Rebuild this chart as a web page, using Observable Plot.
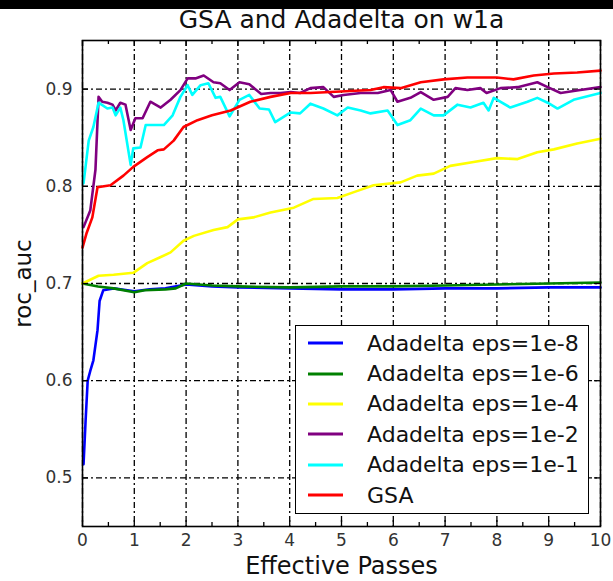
<!DOCTYPE html>
<html>
<head>
<meta charset="utf-8">
<script src="https://cdn.jsdelivr.net/npm/d3@7"></script>
<script src="https://cdn.jsdelivr.net/npm/@observablehq/plot@0.6"></script>
<style>
  html, body { margin: 0; padding: 0; background: #fff; }
  #wrap { position: relative; width: 613px; height: 581px; overflow: hidden; background: #fff; font-family: "DejaVu Sans", sans-serif; }
  #band { position: absolute; left: 0; top: 0; width: 613px; height: 9px; background: #000; z-index: 3; }
  #chart svg { position: absolute; left: 0; top: 0; background: transparent; overflow: visible; }
  #legend { position: absolute; left: 295px; top: 325px; width: 292px; height: 185px; border: 1.5px solid #000; background: #fff; z-index: 2; padding-top: 2px; box-sizing: content-box; }
  .row { height: 30.4px; display: flex; align-items: center; }
  .row svg { margin-left: 12px; margin-right: 24px; flex: none; }
  .row span { font-size: 22px; color: #111; white-space: pre; }
</style>
</head>
<body>
<div id="wrap">
  <div id="band"></div>
  <div id="chart"></div>
  <div id="legend"></div>
</div>
<script>
// ---- data ----
const seriesNames = ["Adadelta eps=1e-8", "Adadelta eps=1e-6", "Adadelta eps=1e-4", "Adadelta eps=1e-2", "Adadelta eps=1e-1", "GSA"];

const eps1e8 = [[0.02,0.514],[0.06,0.559],[0.10,0.600],[0.15,0.610],[0.21,0.621],[0.29,0.652],[0.33,0.682],[0.40,0.693],[0.6,0.695],[1.0,0.692],[1.3,0.694],[1.6,0.695],[2.0,0.699],[2.5,0.697],[3.0,0.696],[4.0,0.695],[5.0,0.694],[6.0,0.694],[7.0,0.695],[8.0,0.695],[9.0,0.696],[10.0,0.696]];

const eps1e6 = [[0,0.700],[0.3,0.697],[0.6,0.695],[1.0,0.691],[1.2,0.693],[1.6,0.694],[1.8,0.695],[2.0,0.700],[2.5,0.698],[3.0,0.697],[4.0,0.696],[5.0,0.697],[6.0,0.697],[7.0,0.698],[8.0,0.699],[9.0,0.700],[10.0,0.701]];

const eps1e4 = [[0,0.700],[0.31,0.708],[0.6,0.709],[0.98,0.711],[1.25,0.721],[1.5,0.727],[1.7,0.732],[1.95,0.744],[2.15,0.749],[2.53,0.755],[2.8,0.758],[3.0,0.766],[3.3,0.768],[3.63,0.773],[4.08,0.778],[4.46,0.787],[4.92,0.788],[5.24,0.794],[5.62,0.801],[6.14,0.804],[6.46,0.811],[6.78,0.813],[7.1,0.821],[7.55,0.825],[8.0,0.829],[8.4,0.828],[8.78,0.835],[9.1,0.838],[9.55,0.844],[10.0,0.849]];

const eps1e2 = [[0.02,0.758],[0.15,0.775],[0.25,0.817],[0.31,0.892],[0.38,0.887],[0.48,0.886],[0.58,0.884],[0.64,0.878],[0.73,0.886],[0.83,0.884],[0.93,0.858],[1.02,0.870],[1.16,0.870],[1.31,0.887],[1.51,0.881],[1.7,0.889],[1.89,0.899],[2.03,0.911],[2.18,0.911],[2.34,0.914],[2.53,0.907],[2.66,0.906],[2.84,0.899],[3.03,0.907],[3.22,0.905],[3.45,0.895],[3.63,0.896],[3.82,0.896],[4.02,0.897],[4.2,0.896],[4.4,0.901],[4.65,0.902],[4.85,0.892],[5.04,0.894],[5.37,0.896],[5.7,0.896],[5.95,0.899],[6.08,0.887],[6.33,0.891],[6.53,0.897],[6.78,0.889],[7.05,0.892],[7.2,0.901],[7.43,0.899],[7.68,0.901],[7.8,0.896],[8.07,0.901],[8.4,0.902],[8.78,0.907],[8.98,0.902],[9.23,0.896],[9.61,0.899],[10.0,0.902]];

const eps1e1 = [[0.02,0.803],[0.12,0.847],[0.21,0.861],[0.31,0.886],[0.48,0.880],[0.58,0.881],[0.64,0.873],[0.73,0.881],[0.79,0.868],[0.93,0.822],[0.98,0.839],[1.12,0.840],[1.22,0.863],[1.35,0.863],[1.57,0.863],[1.74,0.873],[1.89,0.892],[2.03,0.904],[2.12,0.894],[2.28,0.904],[2.43,0.906],[2.57,0.891],[2.66,0.892],[2.84,0.872],[3.03,0.889],[3.22,0.894],[3.42,0.880],[3.6,0.879],[3.72,0.866],[4.02,0.876],[4.2,0.875],[4.4,0.885],[4.65,0.880],[4.92,0.873],[5.12,0.881],[5.37,0.878],[5.56,0.875],[5.89,0.878],[6.08,0.863],[6.33,0.868],[6.53,0.880],[6.78,0.873],[6.97,0.873],[7.24,0.884],[7.49,0.881],[7.74,0.886],[7.84,0.878],[7.94,0.891],[8.26,0.881],[8.59,0.887],[8.78,0.891],[8.98,0.886],[9.17,0.880],[9.48,0.889],[10.0,0.896]];

const gsa = [[0,0.737],[0.08,0.752],[0.19,0.768],[0.29,0.799],[0.54,0.801],[0.79,0.811],[0.98,0.820],[1.25,0.830],[1.45,0.837],[1.57,0.838],[1.76,0.847],[1.95,0.861],[2.22,0.868],[2.5,0.873],[2.86,0.878],[3.24,0.887],[3.63,0.892],[4.02,0.896],[4.4,0.896],[4.79,0.897],[5.17,0.898],[5.56,0.899],[5.81,0.902],[6.14,0.901],[6.53,0.907],[6.97,0.910],[7.43,0.912],[8.0,0.912],[8.32,0.910],[8.71,0.914],[9.1,0.916],[9.55,0.917],[10.0,0.919]];

const xTicks = [0,1,2,3,4,5,6,7,8,9,10];
const xMinorTicks = [0.5,1.5,2.5,3.5,4.5,5.5,6.5,7.5,8.5,9.5];
const yTicks = [0.5,0.6,0.7,0.8,0.9];
const xDomain = [0, 10];
const yDomain = [0.45, 0.95];

const titleText = "GSA and Adadelta on w1a";
const xLabel = "Effective Passes";
const yLabel = "roc_auc";

// ---- styles ----
const colors = ["#0000ff", "#008000", "#ffff00", "#800080", "#00ffff", "#ff0000"];
const W = 613, H = 581;
const mt = 40, mr = 13, mb = 55, ml = 82;
const innerW = W - ml - mr, innerH = H - mt - mb;
const gridStyle = {stroke: "#000", strokeOpacity: 1, strokeWidth: 1.3, strokeDasharray: "6,3,2,3"};
const tickStyle = {stroke: "#000", strokeOpacity: 1, strokeWidth: 1.3};

const seriesData = [eps1e8, eps1e6, eps1e4, eps1e2, eps1e1, gsa];
const table = seriesData.flatMap((pts, i) => pts.map(([x, y]) => ({series: seriesNames[i], x, y})));

const chart = Plot.plot({
  width: W, height: H,
  marginTop: mt, marginRight: mr, marginBottom: mb, marginLeft: ml,
  style: {background: "transparent", fontFamily: "DejaVu Sans, sans-serif"},
  x: {domain: xDomain},
  y: {domain: yDomain},
  color: {domain: seriesNames, range: colors},
  marks: [
    Plot.ruleX(xTicks, {x: d => d, ...gridStyle}),
    Plot.ruleY(yTicks, {y: d => d, ...gridStyle}),
    Plot.line(table, {x: "x", y: "y", z: "series", stroke: "series", strokeWidth: 2.6, strokeLinejoin: "round", strokeLinecap: "round"}),
    // inward ticks
    Plot.tickX(xTicks, {x: d => d, insetTop: innerH - 6, ...tickStyle}),
    Plot.tickX(xTicks, {x: d => d, insetBottom: innerH - 6, ...tickStyle}),
    Plot.tickX(xMinorTicks, {x: d => d, insetTop: innerH - 4, ...tickStyle}),
    Plot.tickX(xMinorTicks, {x: d => d, insetBottom: innerH - 4, ...tickStyle}),
    Plot.tickY(yTicks, {y: d => d, insetRight: innerW - 6, ...tickStyle}),
    Plot.tickY(yTicks, {y: d => d, insetLeft: innerW - 6, ...tickStyle}),
    Plot.frame({stroke: "#000", strokeWidth: 1.6}),
    Plot.axisX({ticks: xTicks, tickSize: 0, tickPadding: 7, fontSize: 17, fill: "#333", label: null, tickFormat: d3.format("d")}),
    Plot.axisY({ticks: yTicks, tickSize: 0, tickPadding: 10, fontSize: 17, fill: "#333", label: null, tickFormat: d3.format(".1f")}),
    Plot.text([titleText], {frameAnchor: "top", dy: -21, fontSize: 25, lineAnchor: "middle", textAnchor: "middle", fill: "#111"}),
    Plot.text([xLabel], {frameAnchor: "bottom", dy: 40, fontSize: 24, lineAnchor: "middle", textAnchor: "middle", fill: "#111"}),
    Plot.text([yLabel], {frameAnchor: "left", dx: -59, rotate: -90, fontSize: 23, lineAnchor: "middle", textAnchor: "middle", fill: "#111"})
  ]
});
document.getElementById("chart").appendChild(chart);

// legend
const legend = d3.select("#legend");
seriesNames.forEach((name, i) => {
  const row = legend.append("div").attr("class", "row");
  const s = row.append("svg").attr("width", 35).attr("height", 6);
  s.append("line").attr("x1", 0).attr("x2", 35).attr("y1", 3).attr("y2", 3)
    .attr("stroke", colors[i]).attr("stroke-width", 3);
  row.append("span").text(name);
});
</script>
</body>
</html>
